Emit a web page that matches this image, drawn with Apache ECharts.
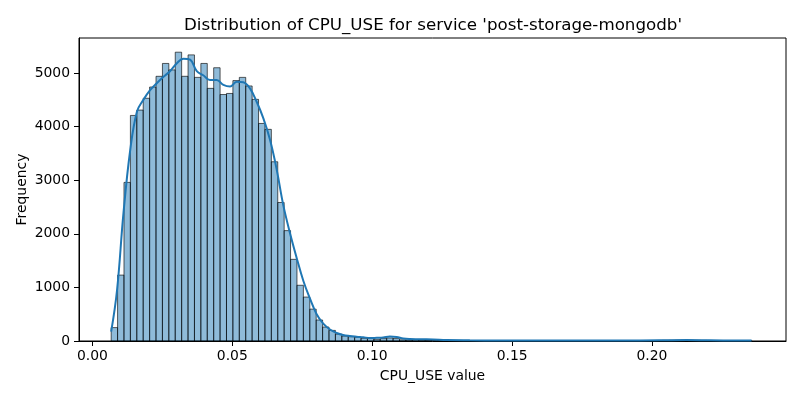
<!DOCTYPE html>
<html>
<head>
<meta charset="utf-8">
<script src="https://cdn.jsdelivr.net/npm/echarts@6/dist/echarts.min.js"></script>
<style>html,body{margin:0;padding:0;background:#fff;}#chart{width:800px;height:400px;}</style>
</head>
<body>
<div id="chart"></div>
<script>
// ---- data ----
const titleText = "Distribution of CPU_USE for service 'post-storage-mongodb'";
const xLabel = "CPU_USE value";
const yLabel = "Frequency";
const binStart = 0.0067;
const binWidth = 0.00229;
const counts = [
  250, 1230, 2960, 4210, 4310, 4530, 4740, 4940, 5180, 5060,
  5390, 4940, 5340, 4920, 5180, 4715, 5100, 4600, 4620, 4860,
  4920, 4760, 4510, 4060, 3950, 3345, 2585, 2060, 1524, 1040,
  820, 595, 392, 260, 198, 128, 93, 80, 69, 50,
  45, 32, 45, 56, 45, 22, 19, 19, 14, 10,
  12, 10, 9, 9, 8, 7, 7, 6, 6, 5,
  5, 5, 4, 4, 4, 4, 3, 3, 3, 3,
  3, 3, 3, 3, 3, 4, 4, 4, 4, 5,
  5, 6, 6, 7, 8, 10, 12, 14, 16, 17,
  16, 14, 11, 9, 7, 6, 5, 5, 5, 6
];
const kdeX = [0.0067,0.0088,0.0111,0.0135,0.0159,0.0182,0.0206,0.0230,0.0254,0.0278,
  0.0301,0.0325,0.0349,0.0373,0.0396,0.0420,0.0444,0.0468,0.0492,0.0516,
  0.0539,0.0563,0.0587,0.0611,0.0635,0.0659,0.0682,0.0706,0.0730,0.0754,
  0.0778,0.0801,0.0825,0.0849,0.0873,0.0896,0.0920,0.0944,0.0968,0.0992,
  0.1016,0.1039,0.1063,0.1087,0.1111,0.1135,0.1170,0.1218,0.1266,0.1349,
  0.1456,0.1599,0.1742,0.1885,0.2028,0.2124,0.2206,0.2356];
const kdeY = [175,950,2390,3560,4280,4500,4680,4810,4930,5040,
  5180,5270,5250,5035,4960,4870,4870,4780,4750,4840,
  4830,4715,4465,4155,3750,3190,2540,2015,1550,1120,
  785,505,325,215,150,112,93,80,69,56,
  60,65,84,75,47,37,34,28,19,14,
  10,8,7,9,12,17,12,9];
const xTicks = [0, 0.05, 0.10, 0.15, 0.20];
const yTicks = [0, 1000, 2000, 3000, 4000, 5000];

// ---- build ----
const barData = counts.map((c, i) => [binStart + i * binWidth, binStart + (i + 1) * binWidth, c]);
const kdeData = kdeX.map((x, i) => [x, kdeY[i]]);

const chart = echarts.init(document.getElementById('chart'), null, {renderer: 'canvas'});
const font = 'DejaVu Sans';
chart.setOption({
  animation: false,
  backgroundColor: '#fff',
  title: {
    text: titleText,
    left: 428, top: 12, textAlign: 'center',
    textStyle: {fontFamily: font, fontSize: 16.7, fontWeight: 'normal', color: '#000'}
  },
  grid: {left: 79, right: 14, top: 38, bottom: 59, show: true, borderColor: '#000', borderWidth: 1, backgroundColor: 'transparent'},
  xAxis: {
    type: 'value', min: -0.0048, max: 0.2479,
    name: xLabel, nameLocation: 'middle', nameGap: 28, nameMoveOverlap: false,
    nameTextStyle: {fontFamily: font, fontSize: 13.9, color: '#000'},
    axisLine: {show: true, onZero: false, lineStyle: {color: '#000', width: 1}},
    axisTick: {show: true, inside: false, length: 5, lineStyle: {color: '#000'}, customValues: xTicks},
    axisLabel: {fontFamily: font, fontSize: 13.9, color: '#000', margin: 8, customValues: xTicks,
      formatter: v => v.toFixed(2)},
    splitLine: {show: false}
  },
  yAxis: {
    type: 'value', min: 0, max: 5655,
    name: yLabel, nameLocation: 'middle', nameGap: 50, nameRotate: 90, nameMoveOverlap: false,
    nameTextStyle: {fontFamily: font, fontSize: 13.9, color: '#000'},
    axisLine: {show: true, onZero: false, lineStyle: {color: '#000', width: 1}},
    axisTick: {show: true, inside: false, length: 5, lineStyle: {color: '#000'}, customValues: yTicks},
    axisLabel: {fontFamily: font, fontSize: 13.9, color: '#000', margin: 9, customValues: yTicks,
      formatter: v => String(Math.round(v))},
    splitLine: {show: false}
  },
  series: [
    {
      type: 'custom',
      data: barData,
      encode: {x: [0, 1], y: 2},
      renderItem: function (params, api) {
        const p0 = api.coord([api.value(0), api.value(2)]);
        const p1 = api.coord([api.value(1), 0]);
        return {
          type: 'rect',
          shape: {x: p0[0], y: p0[1], width: p1[0] - p0[0], height: p1[1] - p0[1]},
          style: {fill: 'rgba(31,119,180,0.5)', stroke: 'rgba(0,0,0,0.7)', lineWidth: 0.9}
        };
      },
      z: 2
    },
    {
      type: 'line',
      data: kdeData,
      smooth: 0.4,
      showSymbol: false,
      lineStyle: {color: '#1f77b4', width: 2},
      z: 3
    }
  ]
});
</script>
</body>
</html>
